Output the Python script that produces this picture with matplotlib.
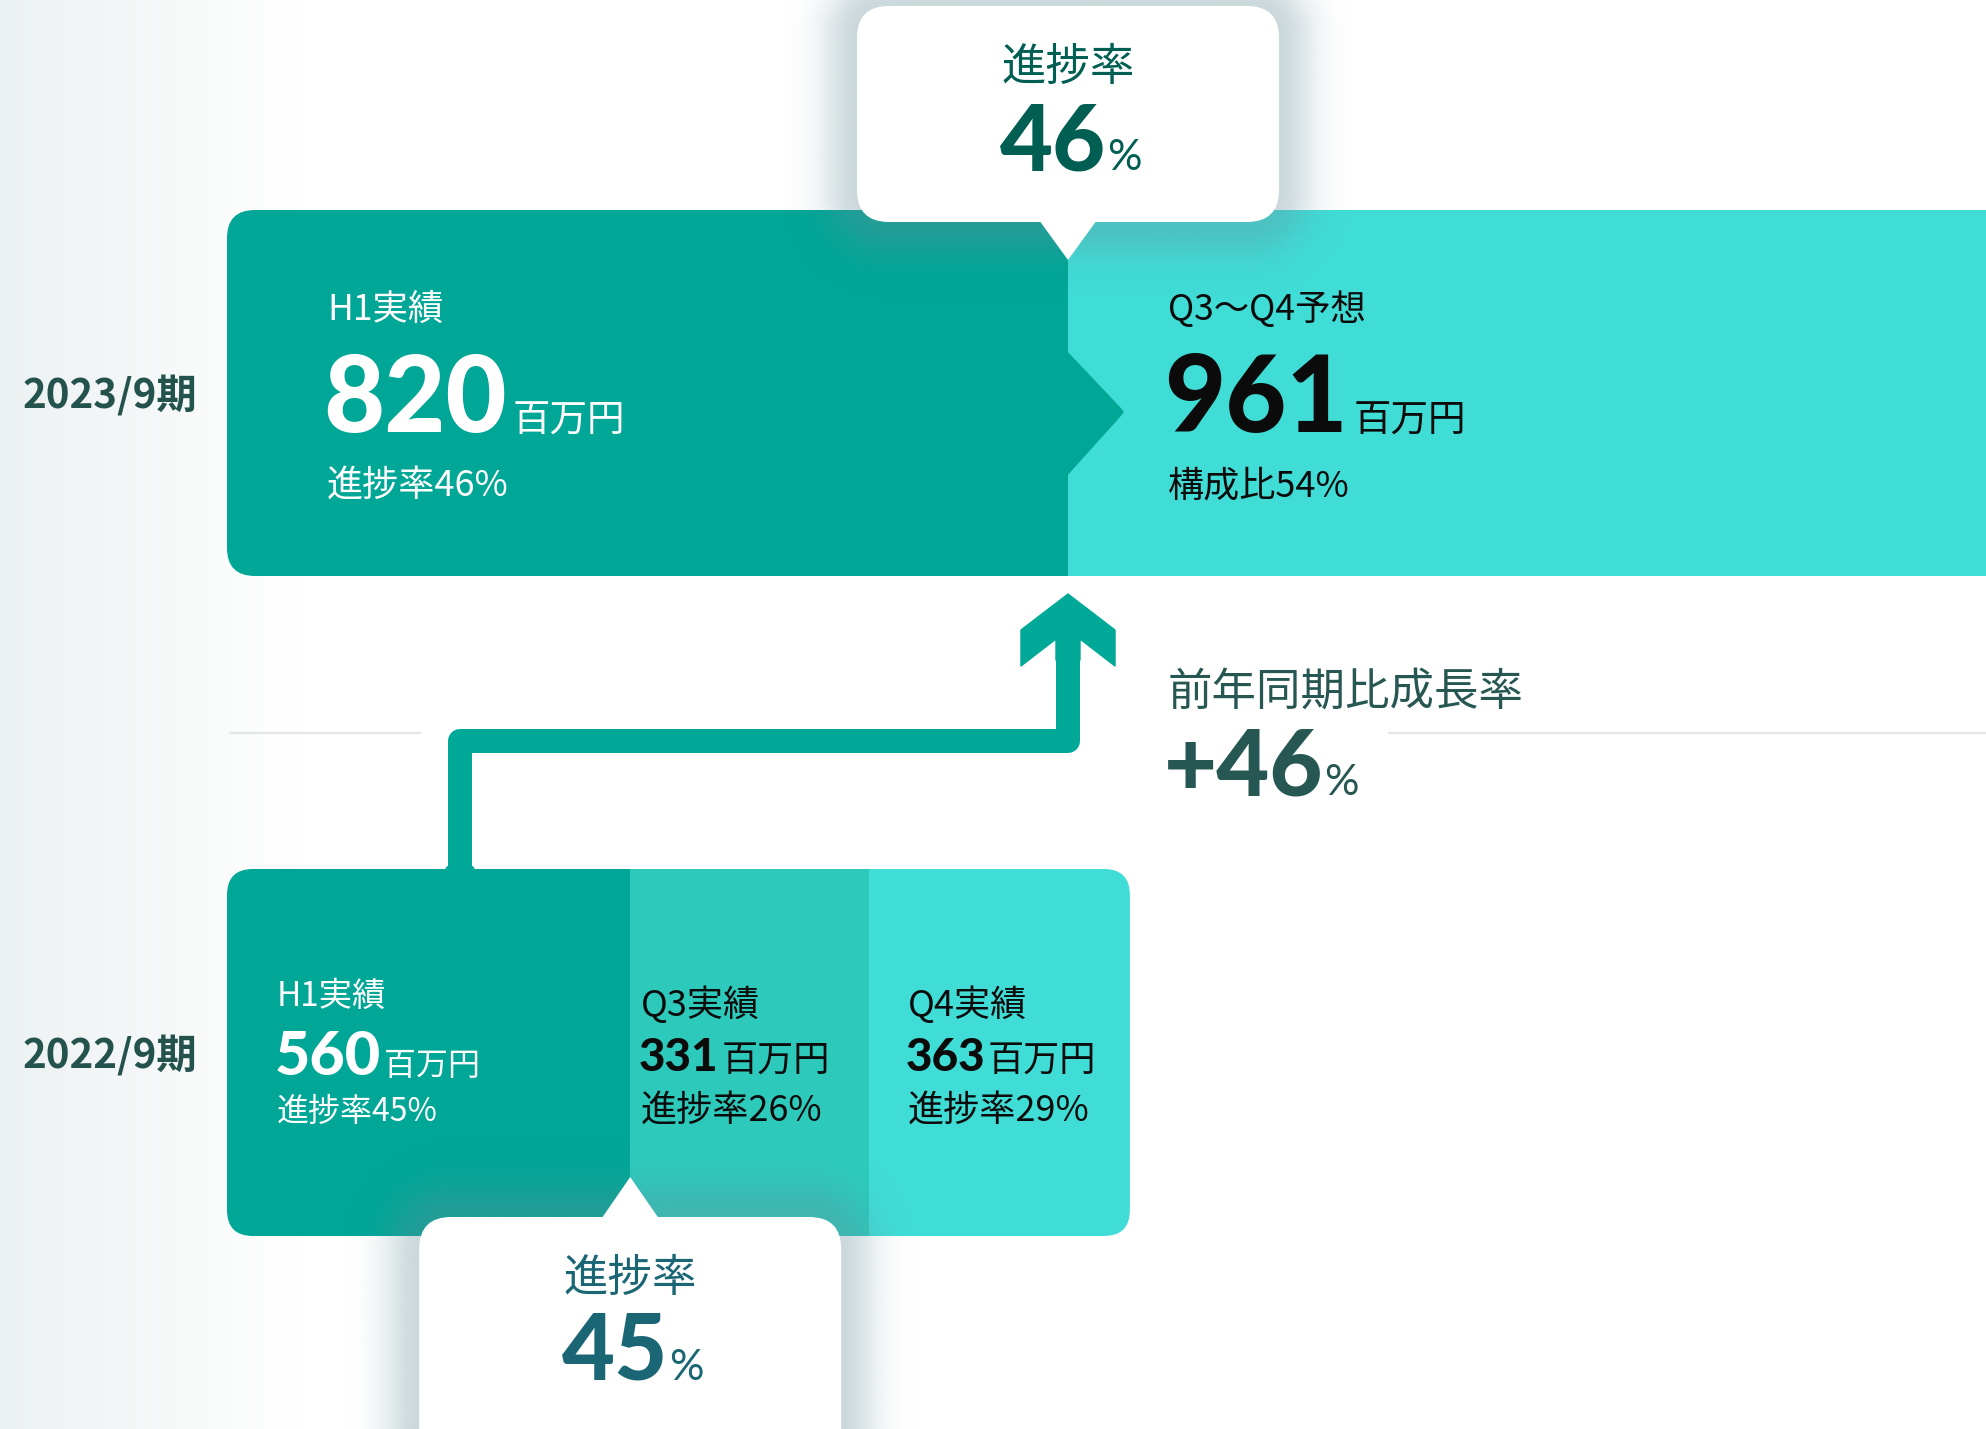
import numpy as np
import matplotlib
matplotlib.use('Agg')
import matplotlib.pyplot as plt
from matplotlib.patches import FancyBboxPatch, Polygon, Rectangle, Circle
from matplotlib.lines import Line2D

# ---------------- data ----------------
periods = ['2023/9期', '2022/9期']
top_labels = ['H1実績', 'Q3～Q4予想']
top_values = [820, 961]
top_sub = ['進捗率46%', '構成比54%']
bottom_labels = ['H1実績', 'Q3実績', 'Q4実績']
bottom_values = [560, 331, 363]
bottom_sub = ['進捗率45%', '進捗率26%', '進捗率29%']
unit = '百万円'
progress_title = '進捗率'
progress_2023 = 46
progress_2022 = 45
growth_title = '前年同期比成長率'
growth_rate = 46

# ---------------- style ----------------
W, H = 1986, 1429
fig = plt.figure(figsize=(W / 100, H / 100), dpi=100)
ax = fig.add_axes([0, 0, 1, 1])
ax.axis('off')

JP = ['Noto Sans CJK JP', 'DejaVu Sans']
NUM = ['Lato', 'Noto Sans CJK JP', 'DejaVu Sans']
NUMW = 'black'
DARK = '#00A696'
MID = '#2DCABC'
LIGHT = '#40DCD6'
TOP_COLORS = [DARK, LIGHT]
BOT_COLORS = [DARK, MID, LIGHT]
LABEL_C = '#24524D'

# left background gradient
grad = np.linspace(0, 1, 256)
c0 = np.array([0.925, 0.945, 0.945])
img = c0[None, :] * (1 - grad[:, None]) + np.ones(3)[None, :] * grad[:, None]
ax.imshow(img[None, :, :], extent=(0, 300, H, 0), aspect='auto', zorder=0,
          interpolation='bilinear')


def shadow(x0, y0, x1, y1, r, spread, alpha, color=(0.40, 0.55, 0.60), zorder=4):
    m = spread * 3
    xs = np.arange(x0 - m, x1 + m, 2.0)
    ys = np.arange(y0 - m, y1 + m, 2.0)
    X, Y = np.meshgrid(xs, ys)
    cx, cy = (x0 + x1) / 2, (y0 + y1) / 2
    hx, hy = (x1 - x0) / 2 - r, (y1 - y0) / 2 - r
    qx = np.maximum(np.abs(X - cx) - hx, 0)
    qy = np.maximum(np.abs(Y - cy) - hy, 0)
    d = np.hypot(qx, qy) - r
    a = alpha * np.exp(-(np.maximum(d, 0) / spread) ** 2)
    im = np.zeros(X.shape + (4,))
    im[..., :3] = color
    im[..., 3] = a
    ax.imshow(im, extent=(xs[0], xs[-1], ys[-1], ys[0]), origin='upper',
              interpolation='bilinear', zorder=zorder, aspect='auto')


def bar(x0, y0, y1, values, scale, colors, radius):
    edges = x0 + np.concatenate([[0], np.cumsum(values)]) * scale
    clip = FancyBboxPatch((x0, y0), edges[-1] - x0, y1 - y0,
                          boxstyle=f'round,pad=0,rounding_size={radius}',
                          fc='none', ec='none', zorder=2)
    ax.add_patch(clip)
    for i, c in enumerate(colors):
        r = Rectangle((edges[i], y0), edges[i + 1] - edges[i] + (1 if i < len(colors) - 1 else 0),
                      y1 - y0, fc=c, ec='none', zorder=2)
        ax.add_patch(r)
        r.set_clip_path(clip)
    return edges, clip


def num_unit(x, y, num, u, nsize, usize, color, gap=0, ha='left',
             ufamily=None, uweight='normal'):
    t = ax.text(x, y, num, fontsize=nsize, family=NUM, fontweight=NUMW,
                color=color, ha=ha, va='baseline', zorder=10)
    ax.annotate(u, xy=(1, y), xycoords=(t, 'data'), xytext=(gap, 0),
                textcoords='offset pixels', fontsize=usize,
                family=ufamily or JP, fontweight=uweight, color=color,
                ha='left', va='baseline', zorder=10)
    return t


# ---------------- separator line ----------------
ax.add_line(Line2D([230, 420], [733, 733], color='#E2E6E9', lw=1.6, zorder=1))
ax.add_line(Line2D([1389, W], [733, 733], color='#E2E6E9', lw=1.6, zorder=1))

# ---------------- top bar (2023/9) ----------------
TX0, TY0, TY1 = 227, 210, 576
top_edges, top_clip = bar(TX0, TY0, TY1, top_values, 1.0256, TOP_COLORS, 28)
split = top_edges[1]
chev = Polygon([(split - 2, 350), (split + 52, 407), (split + 56, 412),
                (split + 52, 417), (split - 2, 477)], closed=True, fc=DARK, ec='none',
               zorder=2.5)
ax.add_patch(chev)
chev.set_clip_path(top_clip)

top_text_colors = ['white', '#0B0B0B']
for i in range(2):
    tx = top_edges[i] + 100
    c = top_text_colors[i]
    ax.text(tx, 320, top_labels[i], fontsize=25.5, family=JP, color=c,
            ha='left', va='baseline', zorder=10)
    num_unit(tx - 4, 432, str(top_values[i]), unit, 76, 27, c, gap=6)
    ax.text(tx, 496, top_sub[i], fontsize=26, family=JP, color=c,
            ha='left', va='baseline', zorder=10)

# ---------------- bottom bar (2022/9) ----------------
BX0, BY0, BY1 = 227, 869, 1236
bot_edges, bot_clip = bar(BX0, BY0, BY1, bottom_values, 0.72, BOT_COLORS, 26)
boundary = bot_edges[1]

# arrow from bottom H1 to top split
AX0 = 460
ARROW_C = '#00A898'
ax.add_line(Line2D([AX0, AX0, split, split], [880, 741, 741, 648], color=ARROW_C,
                   lw=24 * 0.72, solid_joinstyle='round', solid_capstyle='butt',
                   zorder=3))
ax.add_patch(Circle((AX0, 879), 18, fc=DARK, ec='none', zorder=2.6))
head = Polygon([(split, 594), (split + 47, 630), (split + 47, 666), (split + 12, 639),
                (split + 12, 660), (split - 12, 660), (split - 12, 639),
                (split - 47, 666), (split - 47, 630)], closed=True, fc=ARROW_C,
               ec=ARROW_C, lw=1, joinstyle='round', zorder=3)
ax.add_patch(head)

bot_text_colors = ['white', '#0B0B0B', '#0B0B0B']
bot_offsets = [50, 11, 39]
bot_label_sizes = [24, 26, 26]
bot_num_sizes = [44, 33, 33]
bot_unit_sizes = [23, 26, 26]
bot_sub_sizes = [23, 26, 26]
for i in range(3):
    tx = bot_edges[i] + bot_offsets[i]
    c = bot_text_colors[i]
    ax.text(tx, 1016 if i else 1006, bottom_labels[i], fontsize=bot_label_sizes[i],
            family=JP, color=c, ha='left', va='baseline', zorder=10)
    num_unit(tx - 2, 1075 if i == 0 else 1071, str(bottom_values[i]), unit,
             bot_num_sizes[i], bot_unit_sizes[i], c, gap=3)
    ax.text(tx, 1121, bottom_sub[i], fontsize=bot_sub_sizes[i], family=JP, color=c,
            ha='left', va='baseline', zorder=10)

# ---------------- period labels ----------------
ax.text(23, 408, periods[0], fontsize=29, family=JP, fontweight='bold', color=LABEL_C,
        ha='left', va='baseline', zorder=10)
ax.text(23, 1068, periods[1], fontsize=29, family=JP, fontweight='bold', color=LABEL_C,
        ha='left', va='baseline', zorder=10)

# ---------------- callouts ----------------
def callout(cx, y0, y1, tip_y, base_y, title_y, num_y, value, color):
    x0, x1 = cx - 211, cx + 211
    shadow(x0, y0, x1, y1, 30, 36, 0.34)
    ax.add_patch(FancyBboxPatch((x0, y0), x1 - x0, y1 - y0,
                                boxstyle='round,pad=0,rounding_size=32',
                                fc='white', ec='none', zorder=5))
    ax.add_patch(Polygon([(cx - 29, base_y), (cx + 29, base_y), (cx, tip_y)],
                         closed=True, fc='white', ec='none', zorder=5))
    ax.text(cx, title_y, progress_title, fontsize=32, family=JP, color=color,
            ha='center', va='baseline', zorder=10)
    t = ax.text(cx + 38, num_y, str(value), fontsize=66, family=NUM, fontweight=NUMW,
                color=color, ha='right', va='baseline', zorder=10)
    ax.annotate('%', xy=(1, num_y), xycoords=(t, 'data'), xytext=(1, 0),
                textcoords='offset pixels', fontsize=31, family=NUM, color=color,
                ha='left', va='baseline', zorder=10)


callout(split, 6, 222, 260, 220, 80, 170, progress_2023, '#005E52')
callout(boundary, 1217, 1480, 1177, 1219, 1291, 1380, progress_2022, '#1B6674')

# ---------------- growth ----------------
GC = '#275753'
ax.text(1168, 705, growth_title, fontsize=32, family=JP, color=GC,
        ha='left', va='baseline', zorder=10)
t = ax.text(1164, 795, f'+{growth_rate}', fontsize=66, family=NUM, fontweight=NUMW,
            color=GC, ha='left', va='baseline', zorder=10)
ax.annotate('%', xy=(1, 795), xycoords=(t, 'data'), xytext=(1, 0),
            textcoords='offset pixels', fontsize=31, family=NUM, color=GC,
            ha='left', va='baseline', zorder=10)

ax.set_xlim(0, W)
ax.set_ylim(H, 0)
fig.savefig('out.png', dpi=100, facecolor='white')
